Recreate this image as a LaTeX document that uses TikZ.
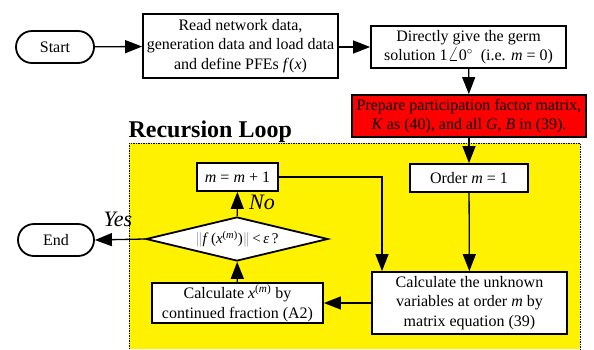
\documentclass[tikz,border=0pt]{standalone}
\usepackage{fontspec}
\setmainfont{Liberation Serif}
\usetikzlibrary{arrows.meta,shapes.geometric,shapes.misc,calc}
\begin{document}
\begin{tikzpicture}[x=1pt,y=-1pt,
  box/.style={draw, line width=1.8pt, fill=white, align=center, inner sep=1pt,
    font=\fontsize{16}{19.5}\selectfont},
  term/.style={box, rounded rectangle},
  arr/.style={line width=1.3pt, -{Triangle[length=17pt,width=13pt]}},
  lab/.style={font=\fontsize{22}{24}\selectfont\itshape}]
\useasboundingbox (0,0) rectangle (594,349);
% yellow region
\fill[yellow] (129,143) rectangle (580,349);
\draw[line width=0.8pt, dash pattern=on 1.5pt off 1pt] (129,349) -- (129,143) -- (580,143) -- (580,349);
\node[anchor=base west, font=\fontsize{24}{28}\selectfont\bfseries] (title) at (125,137) {Recursion Loop};

\node[term, minimum width=80pt, minimum height=32pt] (start) at (55,47) {Start};
\node[box, minimum width=195pt, minimum height=64pt] (read) at (240.5,46)
  {Read network data,\\generation data and load data\\and define PFEs \textit{f}(\textit{x})};
\node[box, minimum width=195pt, minimum height=42pt] (direct) at (468.5,47)
  {Directly give the germ\\solution 1{\fontsize{19}{19}\selectfont$\angle$}0$^{\circ}$\ \ (i.e. \textit{m} = 0)};
\node[box, fill=red, minimum width=234pt, minimum height=42pt] (prep) at (469,116)
  {Prepare participation factor matrix,\\\textit{K} as (40), and all \textit{G}, \textit{B} in (39).};
\node[box, minimum width=81pt, minimum height=28pt] (mm) at (237.5,177) {\textit{m} = \textit{m} + 1};
\node[box, minimum width=118pt, minimum height=28pt] (order) at (469,178) {Order \textit{m} = 1};
\node[box, diamond, inner sep=0pt, shape aspect=4.136, minimum width=182pt, minimum height=44pt,
  font=\fontsize{15}{17}\selectfont] (dia) at (237,239)
  {{\color{gray}$\Big\|$}\textit{f}\,(\textit{x}\textsuperscript{(\textit{m})}){\color{gray}$\Big\|$}\,<\,\textit{ε}\,?};
\node[box, minimum width=171pt, minimum height=40pt] (calx) at (237.5,303)
  {Calculate \textit{x}\textsuperscript{(\textit{m})} by\\continued fraction (A2)};
\node[box, minimum width=195pt, minimum height=62pt] (calu) at (469.5,303)
  {Calculate the unknown\\variables at order \textit{m} by\\matrix equation (39)};
\node[term, minimum width=78pt, minimum height=32pt] (end) at (56,240) {End};

\draw[arr] (start) -- (read);
\draw[arr] (read.east |- direct.west) -- (direct.west);
\draw[arr] (direct) -- (prep);
\draw[arr] (prep) -- (order);
\draw[arr] (order) -- (calu);
\draw[arr] (mm.east) -| ([xshift=-87.5pt]calu.north);
\draw[arr] (calu.west) -- (calx.east |- calu.west);
\draw[arr] (calx) -- (dia);
\draw[arr] (dia) -- (mm);
\draw[arr] (dia.west) -- (end.east);
\node[lab] (no) at (262,202) {No};
\node[lab] (yes) at (118,219) {Yes};
\end{tikzpicture}
\end{document}
